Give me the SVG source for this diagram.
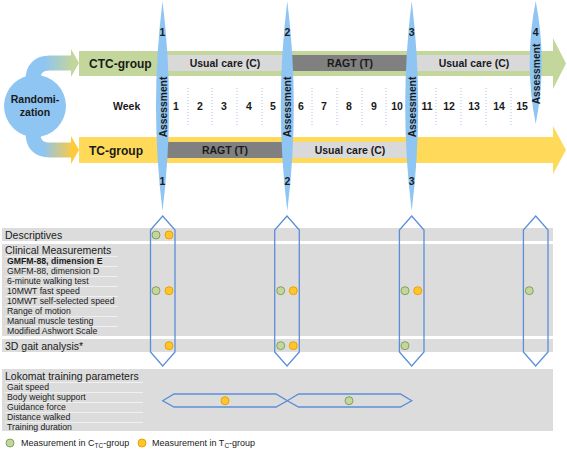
<svg xmlns="http://www.w3.org/2000/svg" width="567" height="450" viewBox="0 0 567 450">
<defs>
<linearGradient id="gGreen" gradientUnits="userSpaceOnUse" x1="30" y1="0" x2="74" y2="0">
<stop offset="0.3" stop-color="#8EC5F2"/><stop offset="1" stop-color="#C3D69B"/>
</linearGradient>
<linearGradient id="gYellow" gradientUnits="userSpaceOnUse" x1="30" y1="0" x2="74" y2="0">
<stop offset="0.3" stop-color="#8EC5F2"/><stop offset="1" stop-color="#FFCB3A"/>
</linearGradient>
<style>
.t{font-family:"Liberation Sans",Arial,sans-serif;fill:#1a1a1a}
.b{font-weight:bold}
.s12{font-size:12px}
.s105{font-size:10.5px}
.s10{font-size:10.3px}
.s9{font-size:8.7px}
.sl{font-size:9px}
.mid{text-anchor:middle}
.ass{fill:#8EC5F2}
.hex{fill:none;stroke:#5B8ED8;stroke-width:1.3;stroke-linejoin:miter}
.dg{fill:#C3D69B;stroke:#7C9A55;stroke-width:0.9}
.dy{fill:#FFC629;stroke:#E89A00;stroke-width:0.9}
.lg{fill:#D9D9D9}
.dk{fill:#808080}
.panel{fill:#DCDCDC}
.sep{stroke:#F2F2F2;stroke-width:0.9}
.dot{stroke:#A9C4EB;stroke-width:1;stroke-dasharray:1 2}
</style>
</defs>

<g id="connectors">
<path d="M33 90 L33 80 Q33 63 50 63 L72 63" fill="none" stroke="url(#gGreen)" stroke-width="15"/>
<polygon points="71,49 79,63 71,77" fill="#C3D69B"/>
<path d="M33 125 L33 133 Q33 150 50 150 L72 150" fill="none" stroke="url(#gYellow)" stroke-width="15"/>
<polygon points="71,136 79,150 71,164" fill="#FFCB3A"/>
</g>

<g id="randomization">
<circle cx="35" cy="106" r="31" fill="#8EC5F2"/>
<text class="t b s105 mid" x="35" y="103">Randomi-</text>
<text class="t b s105 mid" x="35" y="116">zation</text>
</g>

<g id="ctc-group">
<path d="M79 51 L553 51 L553 38 L566 63.5 L553 89 L553 76 L79 76 Z" fill="#C3D69B"/>
<rect class="lg" x="162" y="55" width="125" height="16"/>
<rect class="dk" x="287" y="55" width="124" height="16"/>
<rect class="lg" x="411" y="55" width="125" height="16"/>
<text class="t b s12" x="89" y="67.5">CTC-group</text>
<text class="t b s105 mid" x="225" y="67">Usual care (C)</text>
<text class="t b s105 mid" x="350" y="67">RAGT (T)</text>
<text class="t b s105 mid" x="474" y="67">Usual care (C)</text>
</g>

<g id="tc-group">
<path d="M79 137 L553 137 L553 126 L566 150 L553 174 L553 163 L79 163 Z" fill="#FFD95A"/>
<rect class="dk" x="162" y="142" width="125" height="16"/>
<rect class="lg" x="287" y="142" width="124" height="16"/>
<text class="t b s12" x="89" y="154.5">TC-group</text>
<text class="t b s105 mid" x="225" y="154">RAGT (T)</text>
<text class="t b s105 mid" x="350" y="154">Usual care (C)</text>
</g>

<g id="weeks">
<text class="t b s105" x="113" y="110">Week</text>
<g class="dot">
<line x1="188" y1="88" x2="188" y2="125"/><line x1="212" y1="88" x2="212" y2="125"/>
<line x1="237" y1="88" x2="237" y2="125"/><line x1="262" y1="88" x2="262" y2="125"/>
<line x1="312" y1="88" x2="312" y2="125"/><line x1="337" y1="88" x2="337" y2="125"/>
<line x1="362" y1="88" x2="362" y2="125"/><line x1="386" y1="88" x2="386" y2="125"/>
<line x1="436" y1="88" x2="436" y2="125"/><line x1="461" y1="88" x2="461" y2="125"/>
<line x1="486" y1="88" x2="486" y2="125"/><line x1="511" y1="88" x2="511" y2="125"/>
</g>
<g class="t b s105 mid">
<text x="176" y="110">1</text><text x="200" y="110">2</text><text x="224" y="110">3</text>
<text x="249" y="110">4</text><text x="273" y="110">5</text><text x="301" y="110">6</text>
<text x="324" y="110">7</text><text x="349" y="110">8</text><text x="374" y="110">9</text>
<text x="397" y="110">10</text><text x="427" y="110">11</text><text x="449" y="110">12</text>
<text x="474" y="110">13</text><text x="499" y="110">14</text><text x="522" y="110">15</text>
</g>
</g>

<g id="assessment-1">
<path class="ass" d="M162.5 1 Q175.5 106 162.5 211 Q149.5 106 162.5 1 Z"/>
<text class="t b s105 mid" x="162.5" y="36">1</text>
<text class="t b s10 mid" transform="translate(166.5,107) rotate(-90)">Assessment</text>
<text class="t b s105 mid" x="162.5" y="185">1</text>
</g>
<g id="assessment-2">
<path class="ass" d="M287.3 1 Q300.3 106 287.3 211 Q274.3 106 287.3 1 Z"/>
<text class="t b s105 mid" x="287.3" y="36">2</text>
<text class="t b s10 mid" transform="translate(291.3,107) rotate(-90)">Assessment</text>
<text class="t b s105 mid" x="287.3" y="185">2</text>
</g>
<g id="assessment-3">
<path class="ass" d="M411.7 1 Q424.7 106 411.7 211 Q398.7 106 411.7 1 Z"/>
<text class="t b s105 mid" x="411.7" y="36">3</text>
<text class="t b s10 mid" transform="translate(415.7,107) rotate(-90)">Assessment</text>
<text class="t b s105 mid" x="411.7" y="185">3</text>
</g>
<g id="assessment-4">
<path class="ass" d="M535.7 1 Q547.7 62.5 535.7 124 Q523.7 62.5 535.7 1 Z"/>
<text class="t b s105 mid" x="535.7" y="36">4</text>
<text class="t b s10 mid" transform="translate(539.7,74) rotate(-90)">Assessment</text>
</g>

<g id="panels">
<rect class="panel" x="2" y="228" width="551" height="13"/>
<rect class="panel" x="2" y="244" width="551" height="92"/>
<rect class="panel" x="2" y="339" width="551" height="13"/>
<rect class="panel" x="2" y="369" width="551" height="62"/>
<g class="sep">
<line x1="5" y1="256.5" x2="118" y2="256.5"/><line x1="5" y1="266.5" x2="118" y2="266.5"/>
<line x1="5" y1="276.5" x2="118" y2="276.5"/><line x1="5" y1="286.5" x2="118" y2="286.5"/>
<line x1="5" y1="296.5" x2="118" y2="296.5"/><line x1="5" y1="306.5" x2="118" y2="306.5"/>
<line x1="5" y1="316.5" x2="118" y2="316.5"/><line x1="5" y1="326.5" x2="118" y2="326.5"/>
<line x1="5" y1="382.5" x2="143" y2="382.5"/><line x1="5" y1="392.5" x2="143" y2="392.5"/>
<line x1="5" y1="402.5" x2="143" y2="402.5"/><line x1="5" y1="412.5" x2="143" y2="412.5"/>
<line x1="5" y1="422.5" x2="143" y2="422.5"/>
</g>
<text class="t s105" x="5" y="238.5">Descriptives</text>
<text class="t s105" x="5" y="254">Clinical Measurements</text>
<text class="t s9 b" x="7" y="264.2">GMFM-88, dimension E</text>
<text class="t s9" x="7" y="274.2">GMFM-88, dimension D</text>
<text class="t s9" x="7" y="284.2">6-minute walking test</text>
<text class="t s9" x="7" y="294.2">10MWT fast speed</text>
<text class="t s9" x="7" y="304.2">10MWT self-selected speed</text>
<text class="t s9" x="7" y="314.2">Range of motion</text>
<text class="t s9" x="7" y="324.2">Manual muscle testing</text>
<text class="t s9" x="7" y="334.2">Modified Ashwort Scale</text>
<text class="t s105" x="5" y="349.5">3D gait analysis*</text>
<text class="t s105" x="5" y="380">Lokomat training parameters</text>
<text class="t s9" x="7" y="390.2">Gait speed</text>
<text class="t s9" x="7" y="400.2">Body weight support</text>
<text class="t s9" x="7" y="410.2">Guidance force</text>
<text class="t s9" x="7" y="420.2">Distance walked</text>
<text class="t s9" x="7" y="430.2">Training duration</text>
</g>

<g id="measure-1">
<path class="hex" d="M162.7 216 L175 230 L175 352 L162.7 366 L150.5 352 L150.5 230 Z"/>
<circle class="dg" cx="156" cy="235" r="4"/><circle class="dy" cx="169" cy="235" r="4"/>
<circle class="dg" cx="156" cy="290.7" r="4"/><circle class="dy" cx="169" cy="290.7" r="4"/>
<circle class="dy" cx="169" cy="345.7" r="4"/>
</g>
<g id="measure-2">
<path class="hex" d="M287 216 L299.3 230 L299.3 352 L287 366 L274.7 352 L274.7 230 Z"/>
<circle class="dg" cx="280.7" cy="290.7" r="4"/><circle class="dy" cx="293.3" cy="290.7" r="4"/>
<circle class="dg" cx="280.7" cy="345.7" r="4"/><circle class="dy" cx="293.3" cy="345.7" r="4"/>
</g>
<g id="measure-3">
<path class="hex" d="M411.7 216 L424 230 L424 352 L411.7 366 L399.4 352 L399.4 230 Z"/>
<circle class="dg" cx="405" cy="290.7" r="4"/><circle class="dy" cx="417.7" cy="290.7" r="4"/>
<circle class="dg" cx="405" cy="345.7" r="4"/>
</g>
<g id="measure-4">
<path class="hex" d="M535.7 216 L548 230 L548 352 L535.7 366 L523.4 352 L523.4 230 Z"/>
<circle class="dg" cx="529.3" cy="290.7" r="4"/>
</g>
<g id="lokomat-1">
<path class="hex" d="M162.7 400.7 L174 394 L276 394 L287.3 400.7 L276 407 L174 407 Z"/>
<circle class="dy" cx="225" cy="400.7" r="4"/>
</g>
<g id="lokomat-2">
<path class="hex" d="M287.3 400.7 L298.6 394 L400.4 394 L411.7 400.7 L400.4 407 L298.6 407 Z"/>
<circle class="dg" cx="349" cy="400.7" r="4"/>
</g>

<g id="legend">
<circle class="dg" cx="10" cy="443" r="4"/>
<text class="t sl" x="21" y="446">Measurement in C<tspan font-size="6.5px" dy="2">TC</tspan><tspan dy="-2">-group</tspan></text>
<circle class="dy" cx="142" cy="443" r="4"/>
<text class="t sl" x="152" y="446">Measurement in T<tspan font-size="6.5px" dy="2">C</tspan><tspan dy="-2">-group</tspan></text>
</g>
</svg>
